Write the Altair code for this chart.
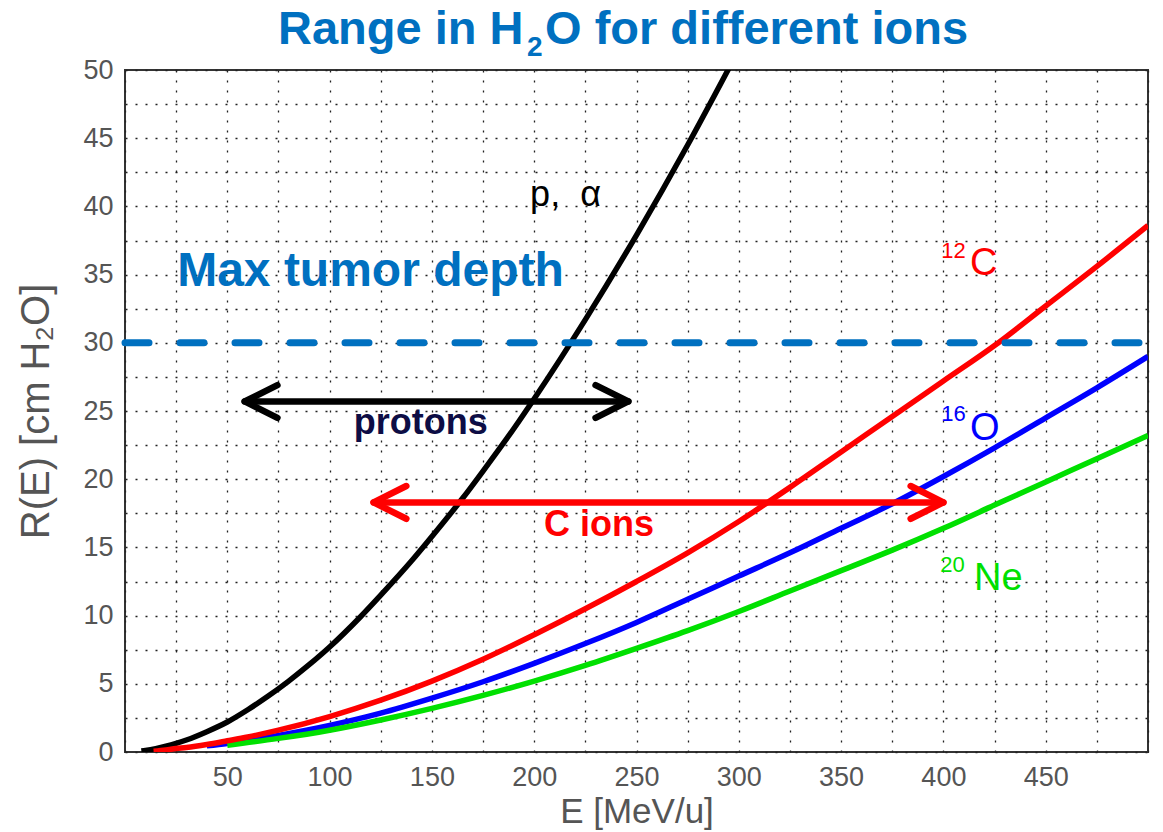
import altair as alt
import pandas as pd

# ---- curve data ----
E_p = [8, 10, 15, 20, 25, 30, 40, 50, 60, 70, 80, 90, 100, 115, 125, 140, 150, 165, 175, 190, 200, 225, 250, 275, 300]
R_p = [0.08, 0.12, 0.25, 0.42, 0.63, 0.88, 1.49, 2.2, 3.1, 4.1, 5.2, 6.4, 7.7, 9.9, 11.5, 14.0, 15.8, 18.6, 20.6, 23.7, 25.9, 31.7, 37.9, 44.5, 51.5]

E_C = [14, 20, 25, 30, 40, 50, 60, 75, 100, 125, 150, 175, 200, 225, 250, 275, 300, 325, 350, 375, 400, 425, 450, 475, 500]
R_C = [0.05, 0.15, 0.25, 0.33, 0.55, 0.82, 1.1, 1.6, 2.6, 3.8, 5.2, 6.8, 8.6, 10.5, 12.5, 14.6, 16.9, 19.4, 22.0, 24.6, 27.2, 29.8, 32.7, 35.6, 38.6]

E_O = [40, 50, 75, 100, 125, 150, 175, 200, 225, 250, 275, 300, 325, 350, 375, 400, 425, 450, 475, 500]
R_O = [0.45, 0.62, 1.22, 1.95, 2.85, 3.95, 5.15, 6.5, 7.95, 9.5, 11.2, 12.9, 14.6, 16.4, 18.2, 20.2, 22.3, 24.5, 26.7, 29.0]

E_Ne = [50, 75, 100, 125, 150, 175, 200, 225, 250, 275, 300, 325, 350, 375, 400, 425, 450, 475, 500]
R_Ne = [0.5, 1.0, 1.6, 2.35, 3.2, 4.15, 5.2, 6.35, 7.6, 8.9, 10.3, 11.8, 13.3, 14.8, 16.4, 18.1, 19.8, 21.5, 23.2]

# ---- annotations ----
max_depth = 30
dash_x = [0, 507]

arrow_x1 = [58.5, 121.5]
arrow_x2 = [246, 400]
arrow_y = [25.7, 18.3]
arrow_colors = ["#000000", "#FF0000"]

NBSP = "\u00a0"
norm_text = ["p," + NBSP + NBSP + "α", "12", "C", "16", "O", "20", "Ne"]
norm_E = [198, 399, 413, 399, 413, 398.5, 415]
norm_R = [40.0, 36.2, 35.0, 24.3, 22.9, 13.2, 11.9]
norm_size = [36, 22, 38, 22, 38, 22, 38]
norm_color = ["#000000", "#FF0000", "#FF0000", "#0000FF", "#0000FF", "#00E000", "#00E000"]

bold_text = ["Max tumor depth", "protons", "C ions"]
bold_E = [25.5, 144.6, 231.7]
bold_R = [34.2, 23.35, 15.8]
bold_size = [48, 36, 36]
bold_color = ["#0070C0", "#0D0D45", "#FF0000"]
bold_align = ["left", "center", "center"]

title_text = ["Range in H", "2", "O for different ions"]
title_E = [74.8, 196.5, 205.3]
title_R = [51.9, 51.03, 51.9]
title_size = [47, 28, 47]

FONT = "Liberation Sans"
GRAY = "#555555"

x_axis = alt.Axis(
    values=list(range(0, 501, 25)),
    labelExpr="(datum.value % 50 === 0 && datum.value > 0 && datum.value < 500) ? datum.label : ''",
    grid=True, gridDash=[2, 8], gridColor="#222222", gridWidth=1.3,
    ticks=False, domain=False,
    labelFont=FONT, labelFontSize=27, labelColor=GRAY, labelPadding=12,
    labelOverlap=False, labelFlush=False,
    title="E [MeV/u]", titleFont=FONT, titleFontSize=35, titleFontWeight="normal",
    titleColor=GRAY, titlePadding=4,
)
y_axis = alt.Axis(
    values=[i * 2.5 for i in range(21)],
    labelExpr="datum.value % 5 === 0 ? datum.label : ''",
    grid=True, gridDash=[2, 8], gridColor="#222222", gridWidth=1.3,
    ticks=False, domain=False,
    labelFont=FONT, labelFontSize=27, labelColor=GRAY, labelPadding=12,
    labelOverlap=False, labelFlush=False,
    title="R(E) [cm H₂O]", titleFont=FONT, titleFontSize=40, titleFontWeight="normal",
    titleColor=GRAY, titlePadding=26,
)

xs = alt.Scale(domain=[0, 500], nice=False, zero=False)
ys = alt.Scale(domain=[0, 50], nice=False, zero=False)
X = alt.X("E:Q", scale=xs, axis=x_axis)
Y = alt.Y("R:Q", scale=ys, axis=y_axis)


def curve(E, R, color):
    df = pd.DataFrame({"E": E, "R": R})
    return alt.Chart(df).mark_line(
        color=color, strokeWidth=5.5, clip=True, interpolate="monotone"
    ).encode(x=X, y=Y)


lines = [
    curve(E_p, R_p, "#000000"),
    curve(E_O, R_O, "#0000FF"),
    curve(E_Ne, R_Ne, "#00E000"),
    curve(E_C, R_C, "#FF0000"),
]

dash_df = pd.DataFrame({"E": [dash_x[0]], "E2": [dash_x[1]], "R": [max_depth]})
dash = alt.Chart(dash_df).mark_rule(
    color="#0070C0", strokeWidth=7, strokeDash=[24, 31], strokeCap="round", clip=False
).encode(x=X, x2="E2:Q", y=Y)

# arrows: shaft + two chevron heads each
HEAD_DX = 16
HEAD_DY = 1.2
rows = []
for i, (a, b, yv, c) in enumerate(zip(arrow_x1, arrow_x2, arrow_y, arrow_colors)):
    rows += [dict(E=a, R=yv, grp=f"s{i}", o=0, col=c), dict(E=b, R=yv, grp=f"s{i}", o=1, col=c)]
    rows += [dict(E=a + HEAD_DX, R=yv + HEAD_DY, grp=f"l{i}", o=0, col=c),
             dict(E=a, R=yv, grp=f"l{i}", o=1, col=c),
             dict(E=a + HEAD_DX, R=yv - HEAD_DY, grp=f"l{i}", o=2, col=c)]
    rows += [dict(E=b - HEAD_DX, R=yv + HEAD_DY, grp=f"r{i}", o=0, col=c),
             dict(E=b, R=yv, grp=f"r{i}", o=1, col=c),
             dict(E=b - HEAD_DX, R=yv - HEAD_DY, grp=f"r{i}", o=2, col=c)]
arrows = alt.Chart(pd.DataFrame(rows)).mark_line(
    strokeWidth=6.5, strokeCap="round", strokeJoin="round", clip=False
).encode(x=X, y=Y, detail="grp:N", order="o:Q", color=alt.Color("col:N", scale=None))

norm_df = pd.DataFrame({"t": norm_text, "E": norm_E, "R": norm_R, "s": norm_size, "c": norm_color})
norm_labels = alt.Chart(norm_df).mark_text(
    font=FONT, align="left", baseline="alphabetic", fontWeight="normal"
).encode(x=X, y=Y, text="t:N", size=alt.Size("s:Q", scale=None), color=alt.Color("c:N", scale=None))

bold_df = pd.DataFrame({"t": bold_text, "E": bold_E, "R": bold_R, "s": bold_size, "c": bold_color})
bold_layers = []
for al in ["left", "center"]:
    sub = bold_df[[a == al for a in bold_align]]
    bold_layers.append(alt.Chart(sub).mark_text(
        font=FONT, align=al, baseline="alphabetic", fontWeight="bold"
    ).encode(x=X, y=Y, text="t:N", size=alt.Size("s:Q", scale=None), color=alt.Color("c:N", scale=None)))

title_df = pd.DataFrame({"t": title_text, "E": title_E, "R": title_R, "s": title_size})
title_layer = alt.Chart(title_df).mark_text(
    font=FONT, align="left", baseline="alphabetic", fontWeight="bold", color="#0070C0"
).encode(x=X, y=Y, text="t:N", size=alt.Size("s:Q", scale=None))

chart = alt.layer(
    *lines, dash, arrows, norm_labels, *bold_layers, title_layer
).properties(
    width=1023, height=682,
    padding={"left": 125, "top": 70, "right": 15, "bottom": 80},
    autosize=alt.AutoSizeParams(type="none"),
    background="white",
).configure_view(stroke="#333333", strokeWidth=2)

chart.save("out.html", embed_options={"renderer": "svg", "actions": False})
